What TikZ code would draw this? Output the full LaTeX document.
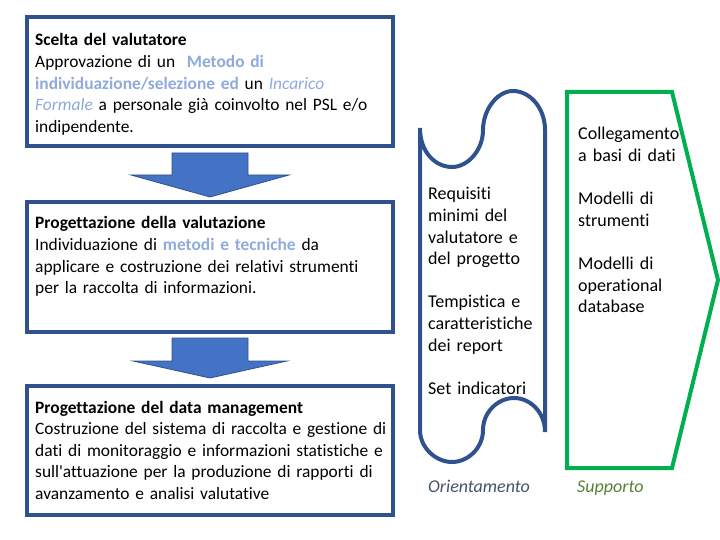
\documentclass[tikz,border=0pt]{standalone}
\usepackage{fontspec}
\setmainfont{Carlito}[Ligatures={NoCommon}]
\usetikzlibrary{calc}
\definecolor{boxblue}{HTML}{2F528F}
\definecolor{fillblue}{HTML}{4472C4}
\definecolor{lightblue}{HTML}{8FAADC}
\definecolor{sgreen}{HTML}{00B050}
\definecolor{orcol}{HTML}{44546A}
\definecolor{supcol}{HTML}{548235}
\tikzset{
  box/.style={draw=boxblue, line width=4pt, outer sep=0pt, inner sep=0pt, fill=white},
  txt/.style={anchor=base west, inner sep=0pt, align=left, text width=#1,
    font={\fontsize{17.4}{21.6}\selectfont}},
  txt/.default=380pt,
  rtxt/.style={anchor=base west, inner sep=0pt, align=left, text width=#1,
    font={\fontsize{18}{21.6}\selectfont}},
  rtxt/.default=140pt,
  barrow/.style={draw=boxblue, line width=0.8pt, fill=fillblue},
  scroll/.style={draw=boxblue, line width=4pt},
  support/.style={draw=sgreen, line width=4pt, line join=miter},
}
\begin{document}
\begin{tikzpicture}[x=1pt, y=-1pt]
\useasboundingbox (0,0) rectangle (720,540);
% boxes
\node[box, minimum width=366pt, minimum height=129pt] (b1) at (210,81.5) {};
\node[box, minimum width=366pt, minimum height=130pt] (b2) at (210,267) {};
\node[box, minimum width=366pt, minimum height=129pt] (b3) at (210,450.5) {};
\node[txt] (t1) at (35,46) {\textbf{Scelta del valutatore}\\
Approvazione di un \ \textcolor{lightblue}{\textbf{Metodo di}}\\
\textcolor{lightblue}{\textbf{individuazione/selezione ed}} un \textcolor{lightblue}{\textit{Incarico}}\\
\textcolor{lightblue}{\textit{Formale}} a personale già coinvolto nel PSL e/o\\
indipendente.};
\node[txt] (t2) at (35,229) {\textbf{Progettazione della valutazione}\\
Individuazione di \textcolor{lightblue}{\textbf{metodi e tecniche}} da\\
applicare e costruzione dei relativi strumenti\\
per la raccolta di informazioni.};
\node[txt] (t3) at (35,413) {\textbf{Progettazione del data management}\\
Costruzione del sistema di raccolta e gestione di\\
dati di monitoraggio e informazioni statistiche e\\
sull\textquotesingle attuazione per la produzione di rapporti di\\
avanzamento e analisi valutative};
% block arrows
\draw[barrow] ($(b1.south)+(-38,7)$) -- ($(b1.south)+(38,7)$) -- ($(b1.south)+(38,29)$)
  -- ($(b1.south)+(79,29)$) -- ($(b2.north)+(0,-5)$) -- ($(b1.south)+(-79,29)$)
  -- ($(b1.south)+(-38,29)$) -- cycle;
\draw[barrow] ($(b2.south)+(-38,6)$) -- ($(b2.south)+(38,6)$) -- ($(b2.south)+(38,29)$)
  -- ($(b2.south)+(77,29)$) -- ($(b3.north)+(0,-8)$) -- ($(b2.south)+(-77,29)$)
  -- ($(b2.south)+(-38,29)$) -- cycle;
% scroll (Orientamento)
\draw[scroll] (420,128)
  .. controls (420,153) and (436,167) .. (452,167)
  .. controls (468,167) and (483,150) .. (483,130)
  .. controls (483,110) and (497,91) .. (513,91)
  .. controls (530,91) and (545,108) .. (545,130)
  -- (545,432)
  .. controls (545,412) and (530,398) .. (514,398)
  .. controls (498,398) and (483,412) .. (483,430)
  .. controls (483,448) and (468,462) .. (452,462)
  .. controls (436,462) and (420,448) .. (420,430)
  -- cycle;
\node[rtxt] (o1) at (428,200) {Requisiti\\ minimi del\\ valutatore e\\ del progetto\\[21.6pt]
Tempistica e\\ caratteristiche\\ dei report\\[21.6pt]
Set indicatori};
\node[rtxt, text=orcol] (o2) at (428,492) {\textit{Orientamento}};
% support shape
\draw[support] (567,92) -- (672,92) -- (718,280) -- (672,468) -- (567,468) -- cycle;
\node[rtxt] (s1) at (578,140) {Collegamento\\ a basi di dati\\[21.6pt]
Modelli di\\ strumenti\\[21.6pt]
Modelli di\\ operational\\ database};
\node[rtxt, text=supcol] (s2) at (577,492) {\textit{Supporto}};
\end{tikzpicture}
\end{document}
